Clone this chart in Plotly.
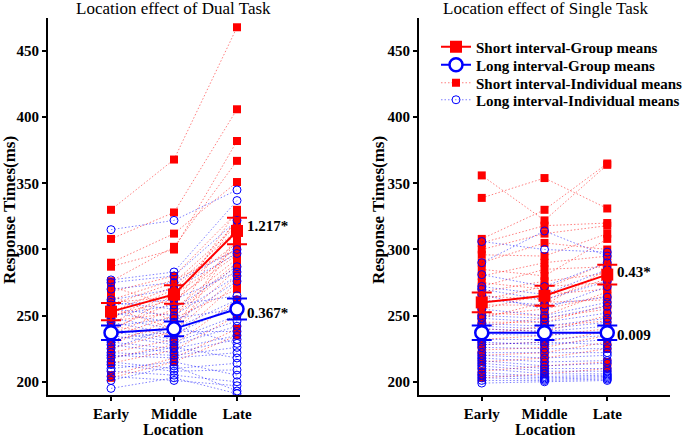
import plotly.graph_objects as go

locations = ["Early", "Middle", "Late"]
xpos = [1, 2, 3]

# Dual task - individual means (one entry per subject)
dual_short_early = [330, 308, 290, 287, 276, 272, 268, 265, 262, 260, 258, 256, 253, 250, 248, 246, 244, 242, 240, 238, 236, 234, 231, 228, 225, 222, 218, 214, 205, 203]
dual_short_middle = [368, 328, 312, 300, 302, 257, 280, 246, 277, 264, 275, 240, 272, 262, 270, 252, 268, 235, 260, 266, 255, 250, 243, 248, 238, 232, 228, 224, 218, 215]
dual_short_late = [468, 406, 351, 382, 367, 330, 328, 325, 300, 322, 318, 310, 315, 296, 312, 290, 305, 308, 302, 298, 293, 288, 285, 270, 280, 275, 262, 250, 240, 235]

dual_long_early = [315, 277, 275, 270, 262, 260, 258, 255, 252, 250, 248, 245, 242, 240, 238, 235, 232, 230, 228, 225, 222, 220, 218, 215, 213, 210, 208, 204, 201, 195]
dual_long_middle = [322, 283, 280, 275, 270, 255, 262, 250, 245, 258, 240, 236, 248, 232, 230, 228, 238, 225, 222, 242, 220, 218, 226, 210, 208, 215, 205, 201, 212, 203]
dual_long_late = [345, 337, 322, 300, 297, 287, 283, 280, 276, 265, 262, 258, 255, 250, 246, 242, 238, 235, 232, 229, 226, 222, 218, 214, 209, 205, 200, 197, 193, 191]

# Single task - individual means
single_short_early = [356, 339, 308, 305, 300, 296, 290, 285, 280, 275, 272, 268, 265, 262, 258, 255, 252, 250, 248, 245, 242, 240, 236, 232, 228, 224, 220, 215, 208, 203]
single_short_middle = [322, 354, 330, 318, 312, 295, 305, 280, 290, 270, 285, 276, 262, 272, 258, 266, 250, 255, 260, 245, 248, 238, 242, 235, 230, 226, 222, 218, 212, 206]
single_short_late = [364, 331, 365, 320, 318, 312, 300, 308, 295, 290, 287, 282, 278, 275, 285, 270, 268, 265, 262, 258, 255, 250, 246, 240, 238, 235, 230, 225, 215, 210]

single_long_early = [306, 290, 281, 272, 270, 266, 262, 255, 250, 248, 244, 242, 240, 236, 232, 230, 228, 226, 222, 220, 218, 216, 214, 212, 210, 207, 205, 203, 201, 199]
single_long_middle = [300, 314, 272, 266, 262, 255, 258, 250, 248, 245, 242, 240, 238, 235, 232, 228, 230, 225, 222, 218, 215, 212, 210, 208, 206, 204, 203, 202, 201, 200]
single_long_late = [298, 295, 290, 285, 276, 272, 264, 260, 257, 252, 248, 245, 242, 238, 235, 232, 228, 225, 222, 220, 216, 214, 210, 208, 206, 205, 204, 203, 202, 201]

# Group means and standard errors
dual_short_mean = [253, 266, 314]
dual_short_se = [6.5, 7, 10]
dual_long_mean = [237, 240, 255]
dual_long_se = [5.5, 5.5, 8]
single_short_mean = [260, 265, 281]
single_short_se = [7.5, 7.5, 7.5]
single_long_mean = [237, 237, 237]
single_long_se = [5.5, 5.5, 5.5]

# Slope labels
dual_labels = ["1.217*", "0.367*"]
dual_label_y = [318, 252]
single_labels = ["0.43*", "0.009"]
single_label_y = [283, 235]

RED = "#ff0000"
BLUE = "#0000ff"
FONT = "Liberation Serif, Times New Roman, serif"
W, H = 685, 437

fig = go.Figure()


def add_panel(xa, ya, s_e, s_m, s_l, l_e, l_m, l_l, s_mean, s_se, l_mean, l_se, show):
    for i, (a, b, c) in enumerate(zip(s_e, s_m, s_l)):
        fig.add_trace(go.Scatter(
            x=xpos, y=[a, b, c], xaxis=xa, yaxis=ya, mode="lines+markers",
            line=dict(color="rgba(255,0,0,0.5)", width=1, dash="1.5px,2px"),
            marker=dict(symbol="square", size=8, color=RED),
            name="Short interval-Individual means", legend="legend3",
            showlegend=(show and i == 0), hoverinfo="skip"))
    for i, (a, b, c) in enumerate(zip(l_e, l_m, l_l)):
        fig.add_trace(go.Scatter(
            x=xpos, y=[a, b, c], xaxis=xa, yaxis=ya, mode="lines+markers",
            line=dict(color="rgba(0,0,255,0.5)", width=1, dash="1.5px,2px"),
            marker=dict(symbol="circle-open", size=8, color=BLUE, line=dict(width=1)),
            name="Long interval-Individual means", legend="legend4",
            showlegend=(show and i == 0), hoverinfo="skip"))
    fig.add_trace(go.Scatter(
        x=xpos, y=s_mean, xaxis=xa, yaxis=ya, mode="lines+markers",
        line=dict(color=RED, width=2),
        marker=dict(symbol="square", size=12, color=RED),
        error_y=dict(type="data", array=s_se, color=RED, thickness=2, width=10),
        name="Short interval-Group means", legend="legend",
        showlegend=show))
    fig.add_trace(go.Scatter(
        x=xpos, y=l_mean, xaxis=xa, yaxis=ya, mode="lines+markers",
        line=dict(color=BLUE, width=2),
        marker=dict(symbol="circle", size=13, color="white", line=dict(color=BLUE, width=2.5)),
        error_y=dict(type="data", array=l_se, color=BLUE, thickness=2, width=10),
        name="Long interval-Group means", legend="legend2",
        showlegend=show))


add_panel("x", "y", dual_short_early, dual_short_middle, dual_short_late,
          dual_long_early, dual_long_middle, dual_long_late,
          dual_short_mean, dual_short_se, dual_long_mean, dual_long_se, False)
add_panel("x2", "y2", single_short_early, single_short_middle, single_short_late,
          single_long_early, single_long_middle, single_long_late,
          single_short_mean, single_short_se, single_long_mean, single_long_se, True)

axis_common = dict(
    showline=True, linecolor="black", linewidth=2, ticks="outside", ticklen=4,
    tickwidth=1.5, tickcolor="black", showgrid=False, zeroline=False,
    tickfont=dict(family=FONT, size=15, color="black", weight="bold"),
)
xcommon = dict(axis_common, range=[0, 4], tickvals=xpos, ticktext=locations)
ycommon = dict(axis_common, range=[190, 475], tickvals=[200, 250, 300, 350, 400, 450])


def px(x):
    return x / W


def py(y):
    return 1 - y / H


legend_font = dict(family=FONT, size=15, color="black", weight="bold")
legend_common = dict(xanchor="left", yanchor="middle", font=legend_font,
                     bgcolor="rgba(0,0,0,0)", itemwidth=30)

fig.update_layout(
    width=W, height=H, margin=dict(l=0, r=0, t=0, b=0, autoexpand=False),
    plot_bgcolor="white", paper_bgcolor="white",
    xaxis=dict(xcommon, domain=[px(48), px(300)], anchor="y"),
    yaxis=dict(ycommon, domain=[py(395), py(18)], anchor="x"),
    xaxis2=dict(xcommon, domain=[px(419), px(670)], anchor="y2"),
    yaxis2=dict(ycommon, domain=[py(395), py(18)], anchor="x2"),
    legend=dict(legend_common, x=px(436), y=py(47)),
    legend2=dict(legend_common, x=px(436), y=py(65)),
    legend3=dict(legend_common, x=px(436), y=py(83)),
    legend4=dict(legend_common, x=px(436), y=py(100)),
    showlegend=True,
)

annotations = []
for xc, txt in [(174, "Location effect of Dual Task"), (545, "Location effect of Single Task")]:
    annotations.append(dict(x=px(xc), y=py(8), xref="paper", yref="paper", text=txt,
                            showarrow=False, xanchor="center", yanchor="middle",
                            font=dict(family=FONT, size=17, color="black")))
    annotations.append(dict(x=px(xc), y=py(429), xref="paper", yref="paper", text="Location",
                            showarrow=False, xanchor="center", yanchor="middle",
                            font=dict(family=FONT, size=16, color="black", weight="bold")))
for xc in [9, 378]:
    annotations.append(dict(x=px(xc), y=py(210), xref="paper", yref="paper",
                            text="Response Times(ms)", textangle=-90, showarrow=False,
                            xanchor="center", yanchor="middle",
                            font=dict(family=FONT, size=17, color="black", weight="bold")))
for txt, yv in zip(dual_labels, dual_label_y):
    annotations.append(dict(x=3, y=yv, xref="x", yref="y", text=txt, showarrow=False,
                            xanchor="left", yanchor="middle", xshift=8,
                            font=dict(family=FONT, size=15, color="black", weight="bold")))
for txt, yv in zip(single_labels, single_label_y):
    annotations.append(dict(x=3, y=yv, xref="x2", yref="y2", text=txt, showarrow=False,
                            xanchor="left", yanchor="middle", xshift=8,
                            font=dict(family=FONT, size=15, color="black", weight="bold")))
fig.update_layout(annotations=annotations)

fig.write_html("out.html", config={"displayModeBar": False},
               post_script="document.body.style.margin='0';")
